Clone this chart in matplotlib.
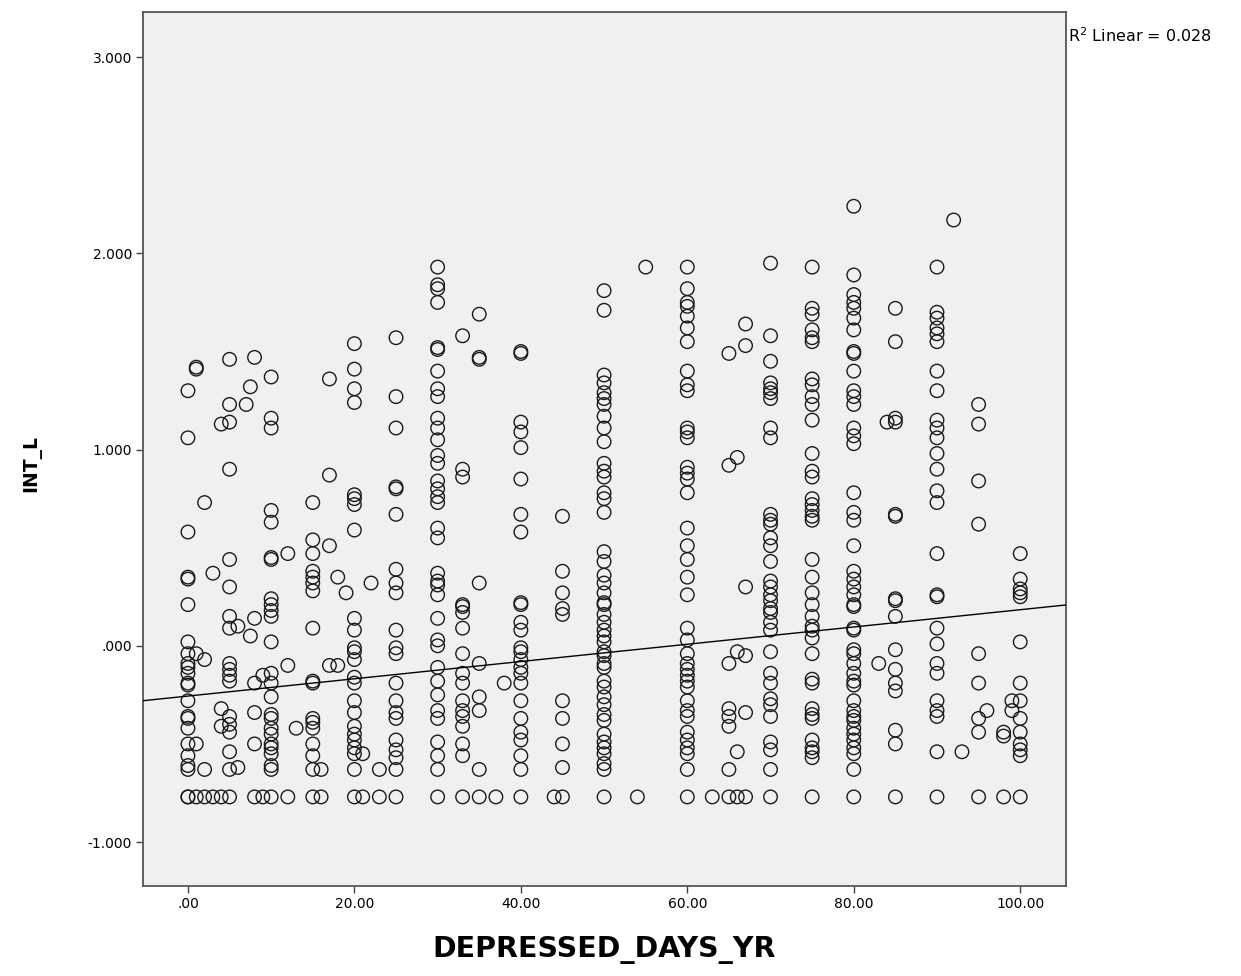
import matplotlib
matplotlib.use("Agg")
import matplotlib.pyplot as plt
import numpy as np
from matplotlib.ticker import FixedLocator, FuncFormatter

plt.rcParams['font.family'] = ['DejaVu Sans']

# ---- data ----
floor = -0.77
col_x = [0, 1, 2, 3, 4, 5, 6, 7, 7.5, 8, 9, 10, 12, 13, 15, 16, 17, 18, 19, 20,
         21, 22, 23, 25, 30, 33, 35, 37, 38, 40, 44, 45, 50, 54, 55, 60, 63, 65,
         66, 67, 70, 75, 80, 83, 84, 85, 90, 92, 93, 95, 96, 98, 99, 100]
col_y = [
    [1.30, 1.06, 0.58, 0.35, 0.34, 0.21, 0.02, -0.04, -0.09, -0.11, -0.14, -0.19, -0.20, -0.28, -0.36, -0.37, -0.42, -0.50, -0.56, -0.61, -0.63, floor, floor],
    [1.42, 1.41, -0.04, -0.50, floor],
    [0.73, -0.07, -0.63, floor],
    [0.37, floor],
    [1.13, -0.32, -0.41, floor],
    [1.46, 1.23, 1.14, 0.90, 0.44, 0.30, 0.15, 0.09, -0.09, -0.12, -0.15, -0.18, -0.36, -0.40, -0.44, -0.54, -0.63, floor],
    [0.10, -0.62],
    [1.23],
    [1.32, 0.05],
    [1.47, 0.14, -0.19, -0.34, -0.50, floor],
    [-0.15, floor],
    [1.37, 1.16, 1.11, 0.69, 0.63, 0.45, 0.44, 0.24, 0.21, 0.18, 0.15, 0.02, -0.14, -0.19, -0.26, -0.35, -0.37, -0.42, -0.45, -0.50, -0.52, -0.55, -0.61, -0.63, floor],
    [0.47, -0.10, floor],
    [-0.42],
    [0.73, 0.54, 0.47, 0.38, 0.35, 0.32, 0.28, 0.09, -0.18, -0.19, -0.37, -0.39, -0.42, -0.50, -0.56, -0.63, floor],
    [-0.63, floor],
    [1.36, 0.87, 0.51, -0.10],
    [0.35, -0.10],
    [0.27],
    [1.54, 1.41, 1.31, 1.24, 0.77, 0.75, 0.72, 0.59, 0.14, 0.08, -0.01, -0.03, -0.07, -0.16, -0.19, -0.28, -0.34, -0.41, -0.45, -0.48, -0.52, -0.55, -0.63, floor],
    [-0.55, floor],
    [0.32],
    [-0.63, floor],
    [1.57, 1.27, 1.11, 0.81, 0.80, 0.67, 0.39, 0.32, 0.27, 0.08, -0.01, -0.04, -0.19, -0.28, -0.34, -0.37, -0.48, -0.53, -0.57, -0.63, floor],
    [1.93, 1.84, 1.82, 1.75, 1.52, 1.51, 1.40, 1.31, 1.27, 1.16, 1.11, 1.05, 0.97, 0.93, 0.84, 0.80, 0.76, 0.73, 0.60, 0.55, 0.37, 0.33, 0.31, 0.26, 0.14, 0.03, 0.00, -0.11, -0.18, -0.25, -0.33, -0.37, -0.49, -0.56, -0.63, floor],
    [1.58, 0.90, 0.86, 0.21, 0.20, 0.17, 0.09, -0.04, -0.14, -0.19, -0.28, -0.33, -0.36, -0.41, -0.50, -0.56, floor],
    [1.69, 1.47, 1.46, 0.32, -0.09, -0.26, -0.33, -0.63, floor],
    [floor],
    [-0.19],
    [1.50, 1.49, 1.14, 1.09, 1.01, 0.85, 0.67, 0.58, 0.22, 0.21, 0.12, 0.08, -0.01, -0.03, -0.07, -0.11, -0.14, -0.19, -0.28, -0.37, -0.44, -0.48, -0.56, -0.63, floor],
    [floor],
    [0.66, 0.38, 0.27, 0.19, 0.16, -0.28, -0.37, -0.50, -0.62, floor],
    [1.81, 1.71, 1.38, 1.34, 1.29, 1.26, 1.23, 1.17, 1.11, 1.04, 0.93, 0.89, 0.86, 0.78, 0.75, 0.68, 0.48, 0.43, 0.36, 0.32, 0.27, 0.22, 0.21, 0.16, 0.12, 0.08, 0.05, 0.02, -0.03, -0.05, -0.09, -0.11, -0.18, -0.21, -0.26, -0.30, -0.35, -0.38, -0.45, -0.49, -0.52, -0.55, -0.60, -0.63, floor],
    [floor],
    [1.93],
    [1.93, 1.82, 1.75, 1.73, 1.68, 1.62, 1.55, 1.40, 1.33, 1.30, 1.11, 1.09, 1.06, 0.91, 0.88, 0.85, 0.78, 0.60, 0.51, 0.44, 0.35, 0.26, 0.09, 0.03, -0.04, -0.09, -0.12, -0.15, -0.18, -0.21, -0.28, -0.33, -0.36, -0.44, -0.48, -0.52, -0.55, -0.63, floor],
    [floor],
    [1.49, 0.92, -0.09, -0.32, -0.36, -0.41, -0.63, floor],
    [0.96, -0.03, -0.54, floor],
    [1.64, 1.53, 0.30, -0.05, -0.34, floor],
    [1.95, 1.58, 1.45, 1.34, 1.31, 1.29, 1.26, 1.11, 1.06, 0.67, 0.64, 0.62, 0.55, 0.51, 0.43, 0.33, 0.30, 0.26, 0.23, 0.19, 0.17, 0.12, 0.08, -0.03, -0.14, -0.19, -0.27, -0.30, -0.36, -0.49, -0.53, -0.63, floor],
    [1.93, 1.72, 1.69, 1.61, 1.57, 1.55, 1.36, 1.33, 1.27, 1.23, 1.15, 0.98, 0.89, 0.86, 0.75, 0.72, 0.69, 0.66, 0.64, 0.44, 0.35, 0.27, 0.21, 0.15, 0.10, 0.08, 0.04, -0.04, -0.17, -0.19, -0.32, -0.35, -0.37, -0.48, -0.52, -0.54, -0.57, floor],
    [2.24, 1.89, 1.79, 1.75, 1.72, 1.67, 1.61, 1.50, 1.49, 1.40, 1.30, 1.27, 1.23, 1.11, 1.07, 1.03, 0.78, 0.68, 0.64, 0.51, 0.38, 0.34, 0.30, 0.26, 0.21, 0.20, 0.09, 0.08, -0.02, -0.04, -0.09, -0.14, -0.18, -0.20, -0.28, -0.33, -0.36, -0.38, -0.42, -0.45, -0.48, -0.52, -0.55, -0.63, floor],
    [-0.09],
    [1.14],
    [1.72, 1.55, 1.16, 1.14, 0.67, 0.66, 0.24, 0.23, 0.15, -0.02, -0.12, -0.19, -0.23, -0.43, -0.50, floor],
    [1.93, 1.70, 1.67, 1.62, 1.59, 1.55, 1.40, 1.30, 1.15, 1.11, 1.06, 0.98, 0.90, 0.79, 0.73, 0.47, 0.26, 0.25, 0.09, 0.01, -0.09, -0.14, -0.28, -0.33, -0.36, -0.54, floor],
    [2.17],
    [-0.54],
    [1.23, 1.13, 0.84, 0.62, -0.04, -0.19, -0.37, -0.44, floor],
    [-0.33],
    [-0.44, -0.46, floor],
    [-0.28, -0.33],
    [0.47, 0.34, 0.29, 0.27, 0.25, 0.02, -0.19, -0.28, -0.37, -0.44, -0.50, -0.53, -0.56, floor],
]

fit_intercept = -0.256
fit_slope = 0.0044
r2_text = "R$^2$ Linear = 0.028"

x_ticks = [0, 20, 40, 60, 80, 100]
y_ticks = [-1, 0, 1, 2, 3]
x_label = "DEPRESSED_DAYS_YR"
y_label = "INT_L"

x_pts = np.concatenate([[cx] * len(cy) for cx, cy in zip(col_x, col_y)])
y_pts = np.concatenate(col_y)

# ---- figure ----
fig = plt.figure(figsize=(12.41, 9.76), dpi=100)
ax = fig.add_axes([143 / 1241, 1 - 886 / 976, (1066 - 143) / 1241, (886 - 12) / 976])
ax.set_facecolor('#f0f0f0')

ax.scatter(x_pts, y_pts, s=95, facecolors='none', edgecolors='#1a1a1a',
           linewidths=1.0, zorder=3)

xlim = (-5.4, 105.5)
ax.set_xlim(*xlim)
ax.set_ylim(-1.224, 3.23)
xl = np.array(xlim)
ax.plot(xl, fit_intercept + fit_slope * xl, color='black', lw=1.0, zorder=4)

ax.xaxis.set_major_locator(FixedLocator(x_ticks))
ax.yaxis.set_major_locator(FixedLocator(y_ticks))


def fmt(v, decimals):
    s = f"{v:.{decimals}f}"
    if s.startswith("0."):
        s = s[1:]
    return s


ax.xaxis.set_major_formatter(FuncFormatter(lambda v, p: fmt(v, 2)))
ax.yaxis.set_major_formatter(FuncFormatter(lambda v, p: fmt(v, 3)))
ax.tick_params(axis='both', direction='out', length=5, width=1, color='#444444',
               labelsize=10, labelcolor='#000000', pad=3)
ax.tick_params(top=False, right=False)

for sp in ax.spines.values():
    sp.set_color('#555555')
    sp.set_linewidth(1.3)

ax.set_xlabel(x_label, fontsize=20.5, fontweight='bold', va='center')
ax.xaxis.set_label_coords(0.5, (26 - 90) / 874)
ax.set_ylabel(y_label, fontsize=13.5, fontweight='bold', va='center')
ax.yaxis.set_label_coords((32 - 143) / 923, (513 - 90) / 874)

fig.text(1068 / 1241, 1 - 36 / 976, r2_text, fontsize=11.5, ha='left', va='center')

fig.savefig("out.png", dpi=100, facecolor='white')
